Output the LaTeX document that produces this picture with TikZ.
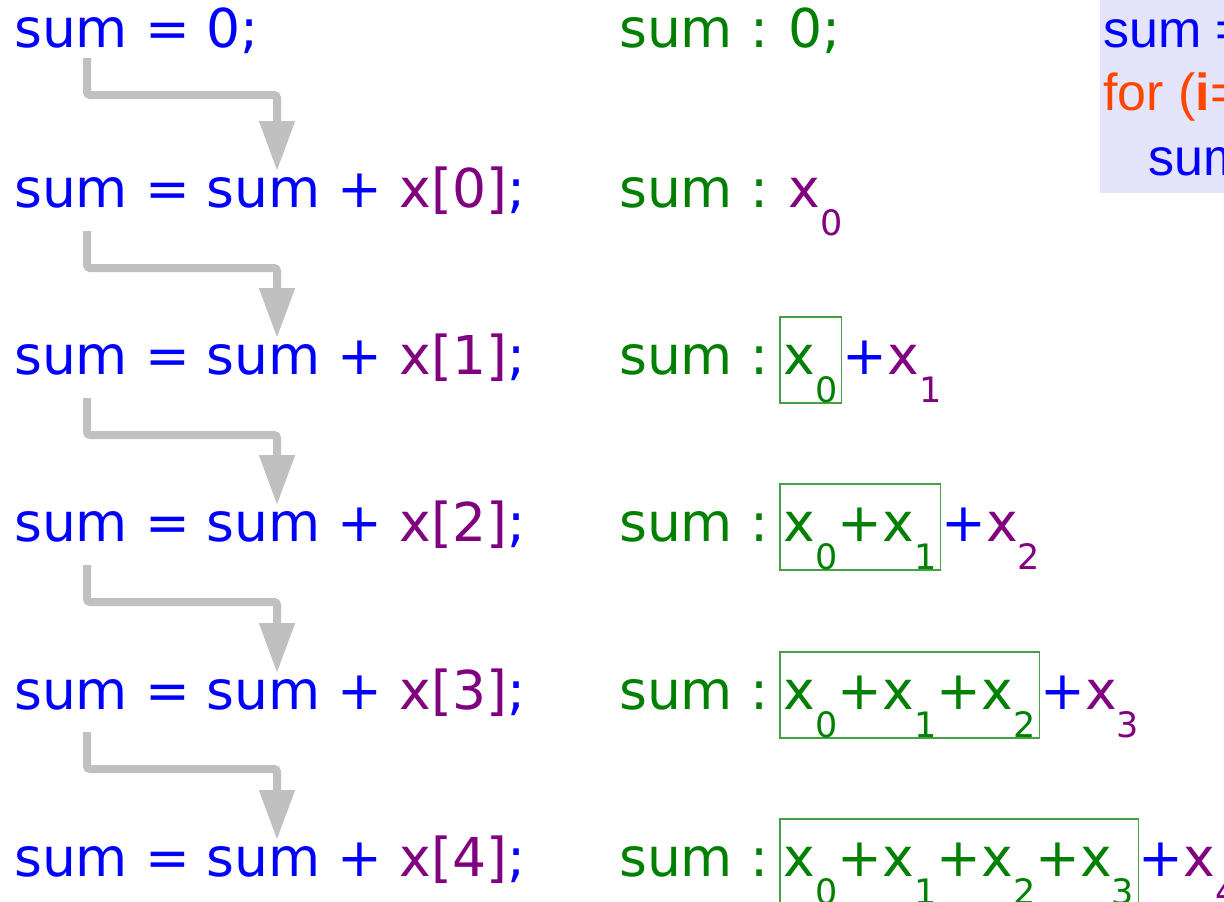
\documentclass[tikz,border=0pt]{standalone}
\usepackage{fontspec}
\setmainfont{DejaVu Sans}
\newfontfamily\codefont{Liberation Sans}
\usetikzlibrary{arrows.meta, positioning}
\definecolor{codeblue}{RGB}{0,0,255}
\definecolor{sumgreen}{RGB}{0,128,0}
\definecolor{elempurple}{RGB}{128,0,128}
\definecolor{looporange}{RGB}{255,69,0}
\definecolor{arrowgray}{RGB}{192,192,192}
\definecolor{boxgreen}{RGB}{70,160,70}
\definecolor{codebg}{RGB}{228,228,250}
\newcommand{\subidx}[1]{\raisebox{-28pt}{\fontsize{35}{35}\selectfont #1}}
\newcommand{\xel}[1]{x\subidx{#1}}
\tikzstyle{stmt} = [anchor=base west, inner sep=0pt, font=\fontsize{53.5}{60}\selectfont, text=codeblue]
\tikzstyle{state} = [stmt, text=sumgreen]
\tikzstyle{elem} = [stmt, text=elempurple]
\tikzstyle{partial} = [stmt, text=sumgreen, draw=boxgreen, line width=1.2pt, inner xsep=4pt, text height=57pt, text depth=29pt]
\tikzstyle{flow} = [line width=8pt, draw=arrowgray, rounded corners=3pt, -{Triangle[width=34pt,length=50pt]}]

\begin{document}
\begin{tikzpicture}[x=1pt, y=-1pt]
    \useasboundingbox (0,0) rectangle (1224,902);
    \clip (0,0) rectangle (1224,902);

    % the statements, one per row
    \node (l0) [stmt] at (14,47) {sum = 0;};
    \node (l1) [stmt] at (14,207) {sum = sum + \textcolor{elempurple}{x[0]};};
    \node (l2) [stmt] at (14,374) {sum = sum + \textcolor{elempurple}{x[1]};};
    \node (l3) [stmt] at (14,541) {sum = sum + \textcolor{elempurple}{x[2]};};
    \node (l4) [stmt] at (14,709) {sum = sum + \textcolor{elempurple}{x[3]};};
    \node (l5) [stmt] at (14,876) {sum = sum + \textcolor{elempurple}{x[4]};};

    % value of sum after each statement
    \node (r0) [state] at (619,47) {sum :};
    \node (r1) [state] at (619,207) {sum :};
    \node (r2) [state] at (619,374) {sum :};
    \node (r3) [state] at (619,541) {sum :};
    \node (r4) [state] at (619,709) {sum :};
    \node (r5) [state] at (619,876) {sum :};

    \node (n0) [state] at ([xshift=20pt]r0.base east) {0;};
    \node (n1) [elem] at ([xshift=20pt]r1.base east) {\xel{0}};
    \node (b2) [partial] at ([xshift=11pt]r2.base east) {\xel{0}};
    \node (b3) [partial] at ([xshift=11pt]r3.base east) {\xel{0}+\xel{1}};
    \node (b4) [partial] at ([xshift=11pt]r4.base east) {\xel{0}+\xel{1}+\xel{2}};
    \node (b5) [partial] at ([xshift=11pt]r5.base east) {\xel{0}+\xel{1}+\xel{2}+\xel{3}};
    \node (n2) [elem] at (b2.base east) {\textcolor{codeblue}{+}\xel{1}};
    \node (n3) [elem] at (b3.base east) {\textcolor{codeblue}{+}\xel{2}};
    \node (n4) [elem] at (b4.base east) {\textcolor{codeblue}{+}\xel{3}};
    \node (n5) [elem] at (b5.base east) {\textcolor{codeblue}{+}\xel{4}};

    % sum flows into the next statement
    \foreach \a/\b/\s in {l0/l1/11, l1/l2/24, l2/l3/24, l3/l4/24, l4/l5/23}
        \draw [flow] ([xshift=73pt, yshift=-\s pt]\a.base west) -- ++(0,37) -| ([xshift=263pt, yshift=36pt]\b.base west);

    % the loop, cut off at the right edge
    \fill [codebg] (1100,-10) rectangle (1240,193);
    \node (c1) [stmt, font=\codefont\fontsize{52}{60}\selectfont] at (1103,47) {sum =};
    \node (c2) [stmt, font=\codefont\fontsize{52}{60}\selectfont, text=looporange] at (1103,110) {for (\textbf{i}=};
    \node (c3) [stmt, font=\codefont\fontsize{52}{60}\selectfont] at (1148,175) {sum};
\end{tikzpicture}
\end{document}
